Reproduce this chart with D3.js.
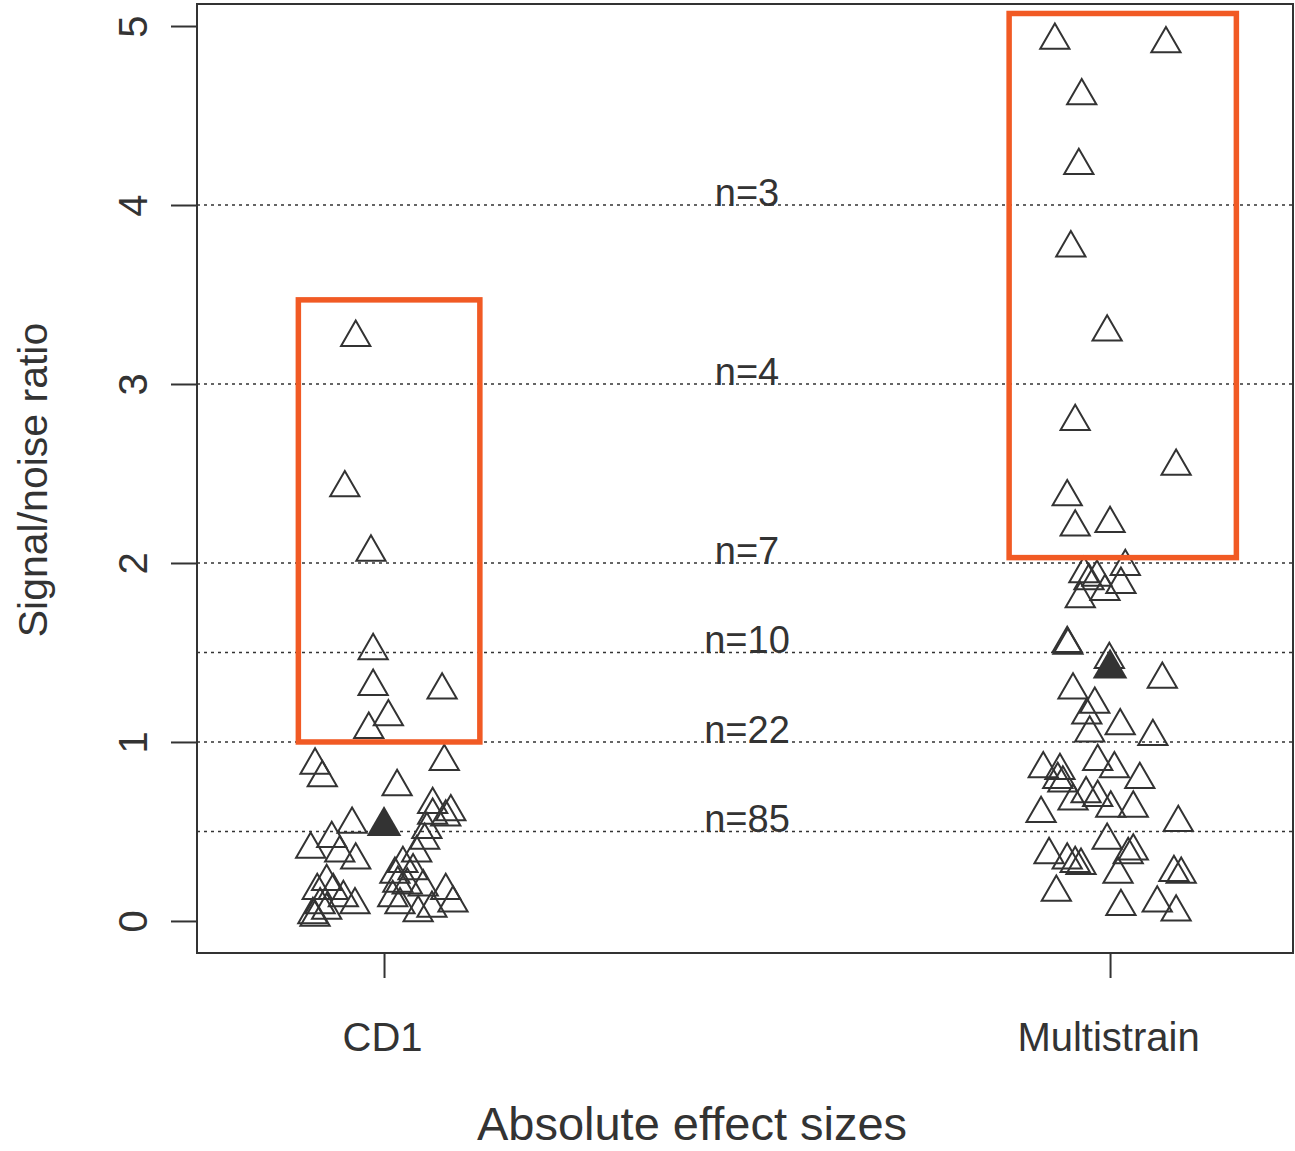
<!DOCTYPE html>
<html>
<head>
<meta charset="utf-8">
<script src="https://cdn.jsdelivr.net/npm/d3@7"></script>
<style>
  body { margin: 0; background: white; }
  text { font-family: "Liberation Sans", Helvetica, Arial, sans-serif; fill: #333; }
</style>
</head>
<body>
<div id="container"></div>
<script>
let w = 1295;
let h = 1151;

// groups and tick labels
let groups = ["CD1", "Multistrain"];
let yTicks = [0, 1, 2, 3, 4, 5];

// CD1 points: horizontal jitter (in group units) and signal/noise value
let cd1Jitter = [-0.039, -0.054, -0.018, -0.015, -0.015, 0.080, 0.006, -0.021,
  -0.095, -0.085, 0.083, 0.018, -0.044, -0.072, -0.061, -0.101, -0.039,
  0.067, 0.067, 0.092, 0.085, 0.059, 0.056, 0.045, 0.026, 0.040, 0.015,
  0.032, 0.019, 0.054, 0.085, 0.095, 0.066, 0.047, 0.022, 0.012,
  -0.079, -0.092, -0.070, -0.056, -0.040, -0.088, -0.079, -0.098, -0.095];
let cd1Values = [3.26, 2.42, 2.06, 1.51, 1.31, 1.29, 1.14, 1.07,
  0.87, 0.80, 0.89, 0.75, 0.54, 0.46, 0.38, 0.40, 0.34,
  0.65, 0.59, 0.61, 0.58, 0.51, 0.45, 0.38, 0.32, 0.28, 0.26,
  0.20, 0.21, 0.19, 0.17, 0.10, 0.07, 0.045, 0.09, 0.13,
  0.22, 0.17, 0.17, 0.13, 0.09, 0.09, 0.06, 0.035, 0.02];

// Multistrain points
let multiJitter = [-0.076, 0.077, -0.039, -0.043, -0.054, -0.004, -0.048, 0.091,
  -0.059, -0.048, 0.000, -0.036, -0.029, 0.021, -0.007, 0.015, -0.041, -0.018,
  -0.059, -0.058, -0.001, 0.072, -0.051, -0.021, -0.032, 0.014, -0.028, 0.059,
  -0.017, -0.092, -0.069, -0.072, -0.065, 0.006, 0.041, -0.033, -0.017, -0.051,
  0.001, 0.032, -0.095, 0.094, -0.004, -0.084, -0.059, -0.048, -0.040, 0.032,
  0.025, 0.011, 0.088, 0.098, -0.074, 0.015, 0.065, 0.091];
let multiValues = [4.92, 4.90, 4.61, 4.22, 3.76, 3.29, 2.79, 2.54,
  2.37, 2.20, 2.22, 1.94, 1.90, 1.98, 1.84, 1.88, 1.80, 1.92,
  1.55, 1.54, 1.46, 1.35, 1.29, 1.21, 1.15, 1.09, 1.05, 1.03,
  0.89, 0.85, 0.84, 0.79, 0.77, 0.85, 0.79, 0.71, 0.69, 0.67,
  0.63, 0.63, 0.60, 0.55, 0.45, 0.37, 0.34, 0.32, 0.31, 0.39,
  0.37, 0.26, 0.27, 0.26, 0.16, 0.08, 0.10, 0.05];

// filled triangles (group summary)
let meanValues = [0.53, 1.41];

// threshold lines and their counts
let thresholds = [4, 3, 2, 1.5, 1, 0.5];
let thresholdLabels = ["n=3", "n=4", "n=7", "n=10", "n=22", "n=85"];

// highlighted boxes: [group x from, group x to, value from, value to]
let boxes = [[0.882, 1.132, 1.0, 3.47], [1.861, 2.174, 2.03, 5.07]];

let plotLeft = 197, plotRight = 1293, plotTop = 4, plotBottom = 953;

let viz = d3.select("#container")
  .append("svg")
  .attr("width", w)
  .attr("height", h)
  .style("background-color", "white");

let xScale = d3.scaleLinear().domain([0.7424, 2.252]).range([plotLeft, plotRight]);
let yScale = d3.scaleLinear().domain([-0.179, 5.123]).range([plotBottom, plotTop]);

let ink = "#333";

// dotted threshold lines
viz.selectAll(".hline").data(thresholds).enter()
  .append("line")
  .attr("class", "hline")
  .attr("x1", plotLeft)
  .attr("x2", plotRight)
  .attr("y1", d => yScale(d))
  .attr("y2", d => yScale(d))
  .attr("stroke", ink)
  .attr("stroke-width", 1.6)
  .attr("stroke-dasharray", "3,4");

// n= labels
viz.selectAll(".nlabel").data(thresholds).enter()
  .append("text")
  .attr("class", "nlabel")
  .attr("x", 747)
  .attr("y", d => yScale(d) + 1)
  .attr("text-anchor", "middle")
  .style("font-size", "38px")
  .text((d, i) => thresholdLabels[i]);

// points
let points = [];
cd1Values.forEach((v, i) => points.push({ g: 1 + cd1Jitter[i], v: v }));
multiValues.forEach((v, i) => points.push({ g: 2 + multiJitter[i], v: v }));

let tri = d3.symbol().type(d3.symbolTriangle).size(370);
let triFilled = d3.symbol().type(d3.symbolTriangle).size(520);

viz.selectAll(".pt").data(points).enter()
  .append("path")
  .attr("class", "pt")
  .attr("d", tri)
  .attr("transform", d => "translate(" + xScale(d.g) + "," + yScale(d.v) + ")")
  .attr("fill", "none")
  .attr("stroke", ink)
  .attr("stroke-width", 2);

viz.selectAll(".mean").data(meanValues).enter()
  .append("path")
  .attr("class", "mean")
  .attr("d", triFilled)
  .attr("transform", (d, i) => "translate(" + xScale(i + 1) + "," + yScale(d) + ")")
  .attr("fill", ink);

// orange boxes
viz.selectAll(".box").data(boxes).enter()
  .append("rect")
  .attr("class", "box")
  .attr("x", d => xScale(d[0]))
  .attr("y", d => yScale(d[3]))
  .attr("width", d => xScale(d[1]) - xScale(d[0]))
  .attr("height", d => yScale(d[2]) - yScale(d[3]))
  .attr("fill", "none")
  .attr("stroke", "#f15a24")
  .attr("stroke-width", 5.5);

// plot frame
viz.append("rect")
  .attr("x", plotLeft)
  .attr("y", plotTop)
  .attr("width", plotRight - plotLeft)
  .attr("height", plotBottom - plotTop)
  .attr("fill", "none")
  .attr("stroke", ink)
  .attr("stroke-width", 2);

// Y AXIS
let yAxisGroup = viz.append("g").attr("class", "yaxis")
  .attr("transform", "translate(" + plotLeft + ",0)")
  .call(d3.axisLeft(yScale).tickValues(yTicks).tickSize(26).tickFormat(d3.format("d")));
yAxisGroup.select(".domain").remove();
yAxisGroup.selectAll(".tick line").attr("stroke", ink).attr("stroke-width", 2);
yAxisGroup.selectAll(".tick text")
  .attr("x", null).attr("dy", null)
  .attr("text-anchor", "middle")
  .attr("transform", "translate(-50,0) rotate(-90)")
  .attr("y", 0)
  .style("font-size", "40px")
  .style("font-family", "Liberation Sans, Helvetica, Arial, sans-serif")
  .attr("fill", ink);

// X AXIS
let xAxisGroup = viz.append("g").attr("class", "xaxis")
  .attr("transform", "translate(0," + plotBottom + ")")
  .call(d3.axisBottom(xScale).tickValues([1, 2]).tickSize(25).tickFormat((d, i) => groups[i]));
xAxisGroup.select(".domain").remove();
xAxisGroup.selectAll(".tick line").attr("stroke", ink).attr("stroke-width", 2);
xAxisGroup.selectAll(".tick text")
  .attr("y", 98).attr("dy", null)
  .attr("transform", "translate(-2,0)")
  .style("font-size", "40px")
  .style("font-family", "Liberation Sans, Helvetica, Arial, sans-serif")
  .attr("fill", ink);

// axis titles
viz.append("text")
  .attr("x", 692)
  .attr("y", 1140)
  .attr("text-anchor", "middle")
  .style("font-size", "47px")
  .text("Absolute effect sizes");

viz.append("text")
  .attr("transform", "translate(47,480) rotate(-90)")
  .attr("text-anchor", "middle")
  .style("font-size", "41px")
  .text("Signal/noise ratio");
</script>
</body>
</html>
